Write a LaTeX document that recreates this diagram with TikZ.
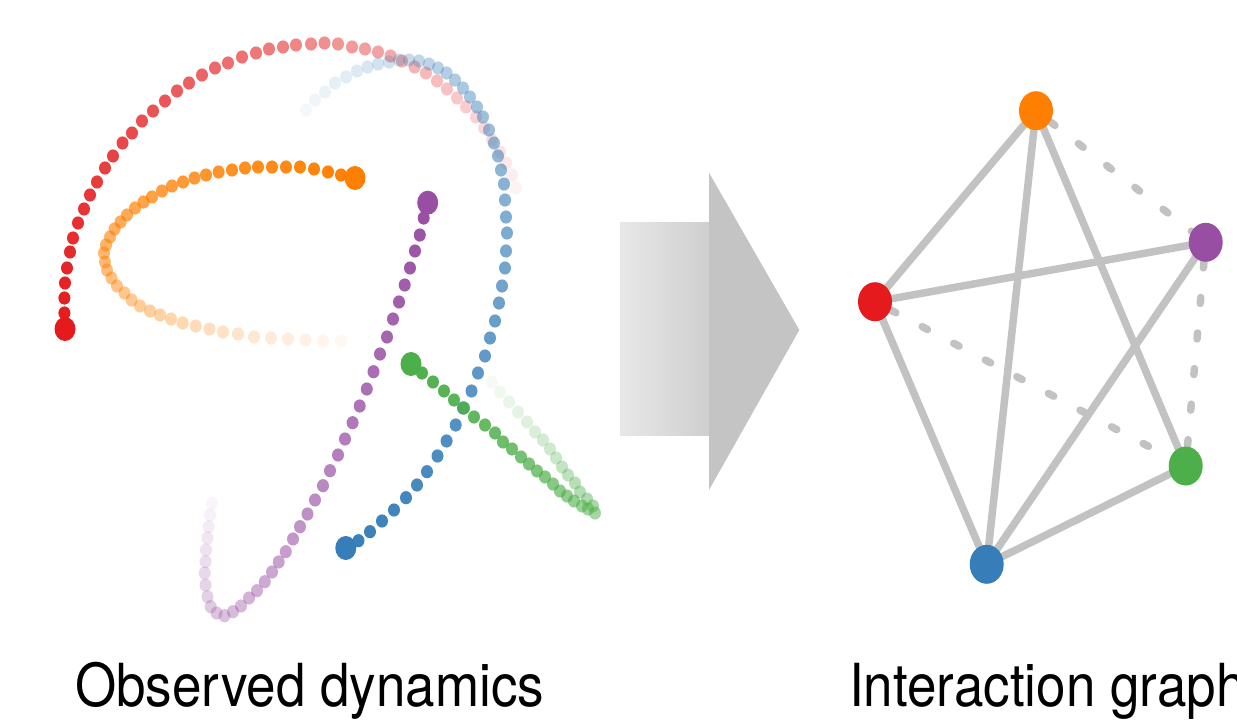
\documentclass[tikz,border=0pt]{standalone}
\usepackage{fontspec}
\setmainfont{TeX Gyre Heros}
\usetikzlibrary{shapes.geometric}

\definecolor{setred}{HTML}{E41A1C}
\definecolor{setorange}{HTML}{FF7F00}
\definecolor{setpurple}{HTML}{984EA3}
\definecolor{setgreen}{HTML}{4DAF4A}
\definecolor{setblue}{HTML}{377EB8}
\definecolor{edgegray}{HTML}{C2C2C2}

\pgfdeclarelayer{paper}
\pgfdeclarelayer{edges}
\pgfsetlayers{paper,edges,main}

% A trajectory: list of x/y positions, current position first.
% Older positions fade out; the current one gets a large dot.
\newcommand\trajectory[2]{%
  \foreach \x/\y [count=\k] in {#2} {\xdef\trailn{\k}}%
  \foreach \x/\y [count=\k] in {#2} {%
    \ifnum\k=1 \xdef\headx{\x}\xdef\heady{\y}\fi
    \pgfmathsetmacro\op{1-0.95*(\k/\trailn)^1.25}%
    \fill[#1, fill opacity=\op] (\x,\y) ellipse [x radius=6, y radius=6.6];
  }%
  \fill[#1] (\headx,\heady) ellipse [x radius=10.5, y radius=12];
}

\tikzset{
  agent/.style={ellipse, minimum width=34pt, minimum height=39pt, inner sep=0pt, fill=#1},
  link/.style={draw=edgegray, line width=7.5pt},
  weaklink/.style={draw=edgegray, line width=7.5pt, line cap=round, dash pattern=on 6pt off 29.7pt},
  caption/.style={font=\fontsize{53}{60}\selectfont, anchor=base west, inner sep=0pt, yscale=1.12, transform shape}
}

\begin{document}
\begin{tikzpicture}[x=1pt, y=-1pt]
\begin{pgfonlayer}{paper}
  \fill[white] (0,0) rectangle (1237,720);
\end{pgfonlayer}
\useasboundingbox (0,0) rectangle (1237,720);

% ---------- observed trajectories ----------
\trajectory{setred}{65/329,64.4/313,64.4/298,65/283,67/268,70/252,73/238,78/223,84/209,90/195,97/182,105/168,113/156,122.5/143,132/133,142/121,153/111,165/101,177/91,189/83,202/75,215/68,228/63,242/57,256/53,269/49,283/47,296/45,311/44,324.5/43,338/44,352/47,365/49,378/52,390.5/56,402/61,414.6/67,426/73,437/81,447/89,457/98,466/107,476/117,484/128,492/140,500/152,506/163,512/175,516/188}

\trajectory{setorange}{355/178,341/175,328/172,314/169,300/167,286/167,272/167,258/167,245/168,232/170,218.6/172,206/175,194.5/178,183/182,172/186,162/191,152/197,143.5/202,135/208,127/215,120.5/222,114.6/229,110/237,106/245,104/253,105/262,107/270,111.5/278,117/286,124.5/293,131.6/300,140/306,150/311,160/315,171/319,182.6/323,195.7/326,209.5/329,223/332,238/334,254/337,271/338,288/339,305.5/340,323/341,341/341}

\trajectory{setblue}{345.8/548,358.5/540.7,370/531.7,382/521,394/510,406/497.7,417/485,427/471.7,437.5/456,446.6/441,455.7/425,463/408,471.5/391,478/373,485/356,490/338,495/321,499/303,502/286,505/268,506/251,507/233,506/217,505/200,504/184,501/170,498/156,494/143,489/130,483/117,477/107,470/97,463/88,455/80,446.6/73,438/68,429/64,419/61,409/60,399/60,389/62,378/64,367.6/67,357/71,346/77,335/83,325/92,315/100,306/110}

\trajectory{setpurple}{427.7/202.7,423.7/218,419.8/235,415/251,410/268,404.7/285,399/302,393/319,387/337,380/354,373.5/371.7,366.8/389,359.7/406,352.6/422.7,345/439,338/455,330/470.7,323/485.7,315/500,307.5/514,300/526.7,293/539,285.8/551.7,278.7/562,272/572,264.8/581.7,257/590.7,249/598,241/606,233/611.7,224.5/615.7,216.6/613,210.7/606.7,207.5/596.7,205.5/585,204.7/573,205.5/561.7,206/550,207.5/538,208.7/526.7,210/515,212/503}

\trajectory{setgreen}{411/364,422/373,433/382,444/391,454/400,464/408,474/417,485/425,495/433,503/442,512/449,521/457,529/464,537/471,545/477,553/484,560/491,567/496,574/501,582/506,588/509,595/513,593/506,587/499,580/492,575/483,568/475,562/467,556/458,550/449,543/440,535/432,527/422,518/412,509/402,500/392,492/382}

% ---------- arrow ----------
\shade[left color=black!9, right color=black!19] (620,222.7) rectangle (709,435.7);
\fill[black!23] (709,172.7) -- (799.3,330) -- (709,490) -- cycle;

% ---------- interaction graph ----------
\node[agent=setred]    (r) at (875,301.7)  {};
\node[agent=setorange] (o) at (1036,110.7) {};
\node[agent=setpurple] (p) at (1205.7,242.3) {};
\node[agent=setgreen]  (g) at (1185.7,466) {};
\node[agent=setblue]   (b) at (986.7,564.3) {};

\begin{pgfonlayer}{edges}
  \draw[link] (r.center) -- (o.center);
  \draw[link] (r.center) -- (p.center);
  \draw[link] (r.center) -- (b.center);
  \draw[link] (o.center) -- (b.center);
  \draw[link] (o.center) -- (g.center);
  \draw[link] (p.center) -- (b.center);
  \draw[link] (g.center) -- (b.center);
  \draw[weaklink] (o) -- (p);
  \draw[weaklink] (r) -- (g);
  \draw[weaklink] (p) -- (g);
\end{pgfonlayer}

% ---------- captions ----------
\begin{scope}[shift={(75,706)}]
  \node[caption] (obs) at (0,0) {Observed dynamics};
\end{scope}
\begin{scope}[shift={(849,706)}]
  \node[caption] (inter) at (0,0) {Interaction graph};
\end{scope}
\end{tikzpicture}
\end{document}
